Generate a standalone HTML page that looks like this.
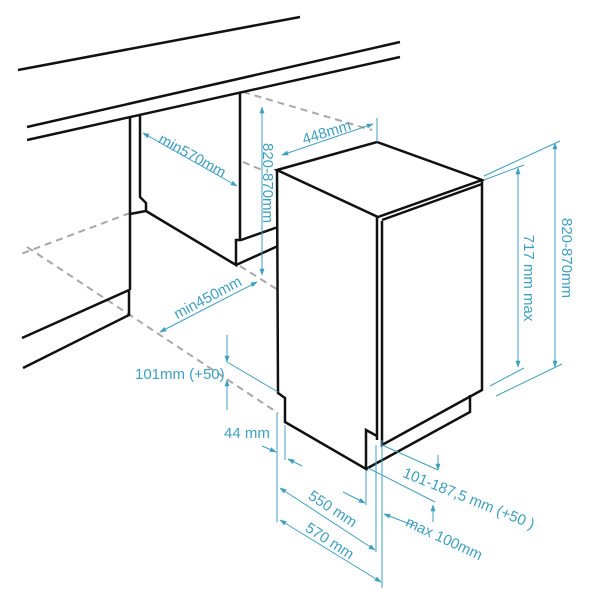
<!DOCTYPE html>
<html><head><meta charset="utf-8"><style>
html,body{margin:0;padding:0;background:#fff;width:600px;height:600px;overflow:hidden}
svg{display:block}
text{font-family:"Liberation Sans",sans-serif;fill:#3f9fc0;font-size:15px}
</style></head><body>
<svg width="600" height="600" viewBox="0 0 600 600" xmlns="http://www.w3.org/2000/svg">
<defs>
<marker id="a" viewBox="0 0 10 10" refX="9" refY="5" markerWidth="7" markerHeight="7" orient="auto-start-reverse"><path d="M0,1.5 L10,5 L0,8.5 z" fill="#3f9fc0"/></marker>
</defs>
<g stroke="#a8a8a8" stroke-width="2" stroke-dasharray="7,5" fill="none">
<path d="M243,92 L372,130"/>
<path d="M130,213 L18,255"/>
<path d="M27,247 L278,413"/>
<path d="M240,266 L278,290"/>
<path d="M243,162 L262,170"/>
</g>
<g stroke="#111" stroke-width="2.5" fill="none" stroke-linejoin="miter">
<path d="M18,70 L300,17"/>
<path d="M27,127 L400,42"/>
<path d="M27,140 L400,57"/>
<path d="M130,117 L130,290"/>
<path d="M140,115 L140,197 L146,203 L146,211 L130,214"/>
<path d="M146,211 L236,265 L236,240 L241,240 L278,227"/>
<path d="M236,265 L278,246"/>
<path d="M240,92 L240,240"/>
<path d="M129,290 L22,338"/>
<path d="M129,290 L129,315 L23,368"/>
<path d="M277,170 L377,142 L482,180 L378,217 Z"/>
<path d="M382,220 L482,184"/>
<path d="M277,170 L278,393 L285,398 L285,422 L366,469 L366,430 L377,436"/>
<path d="M366,469 L470,412 L470,395"/>
<path d="M377,217 L377,440"/>
<path d="M382,221 L382,445 L482,390 L482,180"/>
</g>
<g stroke="#3f9fc0" stroke-width="1" fill="none">
<path d="M143,133 L237,186" marker-start="url(#a)" marker-end="url(#a)"/>
<path d="M262,107 L262,275" marker-start="url(#a)" marker-end="url(#a)"/>
<path d="M282,155 L373,124" marker-start="url(#a)" marker-end="url(#a)"/>
<path d="M377,118 L377,142"/>
<path d="M518,168 L518,367" marker-start="url(#a)" marker-end="url(#a)"/>
<path d="M484,180 L524,165 M490,386 L524,368"/>
<path d="M555,143 L555,367" marker-start="url(#a)" marker-end="url(#a)"/>
<path d="M484,176 L560,141 M496,396 L562,364"/>
<path d="M160,332 L257,282" marker-start="url(#a)" marker-end="url(#a)"/>
<path d="M227,335 L227,362" marker-end="url(#a)"/>
<path d="M227,410 L227,380" marker-end="url(#a)"/>
<path d="M227,362 L278,392"/>
<path d="M262,446 L276,452" marker-end="url(#a)"/>
<path d="M302,466 L288,459" marker-end="url(#a)"/>
<path d="M277,413 L277,522 M285,425 L285,460 M366,470 L366,505 M376,445 L376,552 M382,440 L382,588"/>
<path d="M280,488 L375,550" marker-start="url(#a)" marker-end="url(#a)"/>
<path d="M280,520 L381,582" marker-start="url(#a)" marker-end="url(#a)"/>
<path d="M415,526 L384,514" marker-end="url(#a)"/>
<path d="M343,492 L365,503" marker-end="url(#a)"/>
<path d="M438,455 L438,470" marker-end="url(#a)"/>
<path d="M433,522 L433,505" marker-end="url(#a)"/>
<path d="M382,445 L438,470 M368,468 L435,502"/>
</g>
<text transform="translate(190,160) rotate(29)" text-anchor="middle">min570mm</text>
<text transform="translate(263,183) rotate(90)" text-anchor="middle" font-size="18">820-870mm</text>
<text transform="translate(328,137) rotate(-17)" text-anchor="middle">448mm</text>
<text transform="translate(524,278) rotate(90)" text-anchor="middle" font-size="15">717 mm max</text>
<text transform="translate(562,258) rotate(90)" text-anchor="middle" font-size="17">820-870mm</text>
<text transform="translate(210,302) rotate(-28)" text-anchor="middle">min450mm</text>
<text x="135" y="379" font-size="16">101mm (+50)</text>
<text x="224" y="438">44 mm</text>
<text transform="translate(330,513) rotate(33)" text-anchor="middle" font-size="16">550 mm</text>
<text transform="translate(327,545) rotate(33)" text-anchor="middle" font-size="16">570 mm</text>
<text transform="translate(442,543) rotate(25)" text-anchor="middle" font-size="16">max 100mm</text>
<text transform="translate(467,503) rotate(22)" text-anchor="middle" font-size="16">101-187,5 mm (+50 )</text>
</svg>
</body></html>
